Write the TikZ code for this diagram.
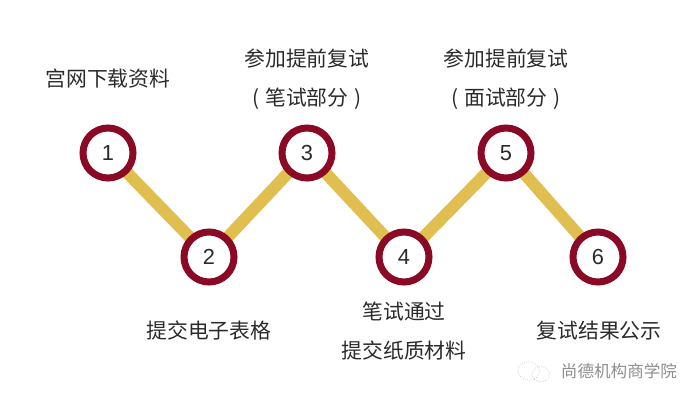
\documentclass[tikz,border=0pt]{standalone}
\usepackage{fontspec}
\newfontfamily\cjk{Noto Sans CJK SC}
\newfontfamily\numfont{Liberation Sans}
\usetikzlibrary{positioning, backgrounds}
\definecolor{ringred}{HTML}{8A0A26}
\definecolor{linkgold}{HTML}{E0BF50}
\definecolor{txtgray}{HTML}{2A2A2A}
\definecolor{markgray}{HTML}{8E8E8E}

\begin{document}
\begin{tikzpicture}[
    x=0.025cm, y=-0.025cm,
    stepnode/.style={circle, draw=ringred, line width=0.175cm, fill=white, minimum size=1.25cm,
                inner sep=0pt, text=txtgray, font=\numfont\fontsize{15.5}{18}\selectfont},
    lbl/.style={align=center, text=txtgray, inner sep=0pt, font=\cjk\fontsize{14.8}{14.8}\selectfont},
    link/.style={line width=0.3cm, linkgold},
    wmark/.style={text=markgray, inner sep=0pt, font=\cjk\fontsize{11.8}{14}\selectfont},
    markarc/.style={markgray!70, line width=0.4pt, densely dotted},
]
\useasboundingbox (0,0) rectangle (700,402);

% --- Steps ---
\node[stepnode] (s1) at (108,153) {1};
\node[stepnode] (s2) at (209,257) {2};
\node[stepnode] (s3) at (307,153) {3};
\node[stepnode] (s4) at (404,257) {4};
\node[stepnode] (s5) at (506,153) {5};
\node[stepnode] (s6) at (598,257) {6};

% --- Links ---
\begin{scope}[on background layer]
\draw[link] (s1.center) -- (s2.center);
\draw[link] (s2.center) -- (s3.center);
\draw[link] (s3.center) -- (s4.center);
\draw[link] (s4.center) -- (s5.center);
\draw[link] (s5.center) -- (s6.center);
\end{scope}

% --- Labels ---
\node[lbl] (t1) at (108,79) {宫网下载资料};
\node[lbl] (t2) at (209,331) {提交电子表格};
\node[lbl] (t3) at (307,79) {参加提前复试\\[0.45cm] (\hspace{0.3em}笔试部分\hspace{0.3em})};
\node[lbl] (t4) at (404,331) {笔试通过\\[0.45cm] 提交纸质材料};
\node[lbl] (t5) at (506,79) {参加提前复试\\[0.45cm] (\hspace{0.3em}面试部分\hspace{0.3em})};
\node[lbl] (t6) at (599,331) {复试结果公示};

% --- Watermark ---
\node[wmark] (wm) at (619,371) {尚德机构商学院};
\coordinate[left=0.8cm of wm.west] (ic1);
\coordinate[right=0.3cm of ic1, yshift=-0.08cm] (ic2);
\draw[markarc] (ic1) circle[x radius=0.27cm, y radius=0.23cm];
\draw[markarc] (ic2) circle[x radius=0.22cm, y radius=0.19cm];
\end{tikzpicture}
\end{document}
